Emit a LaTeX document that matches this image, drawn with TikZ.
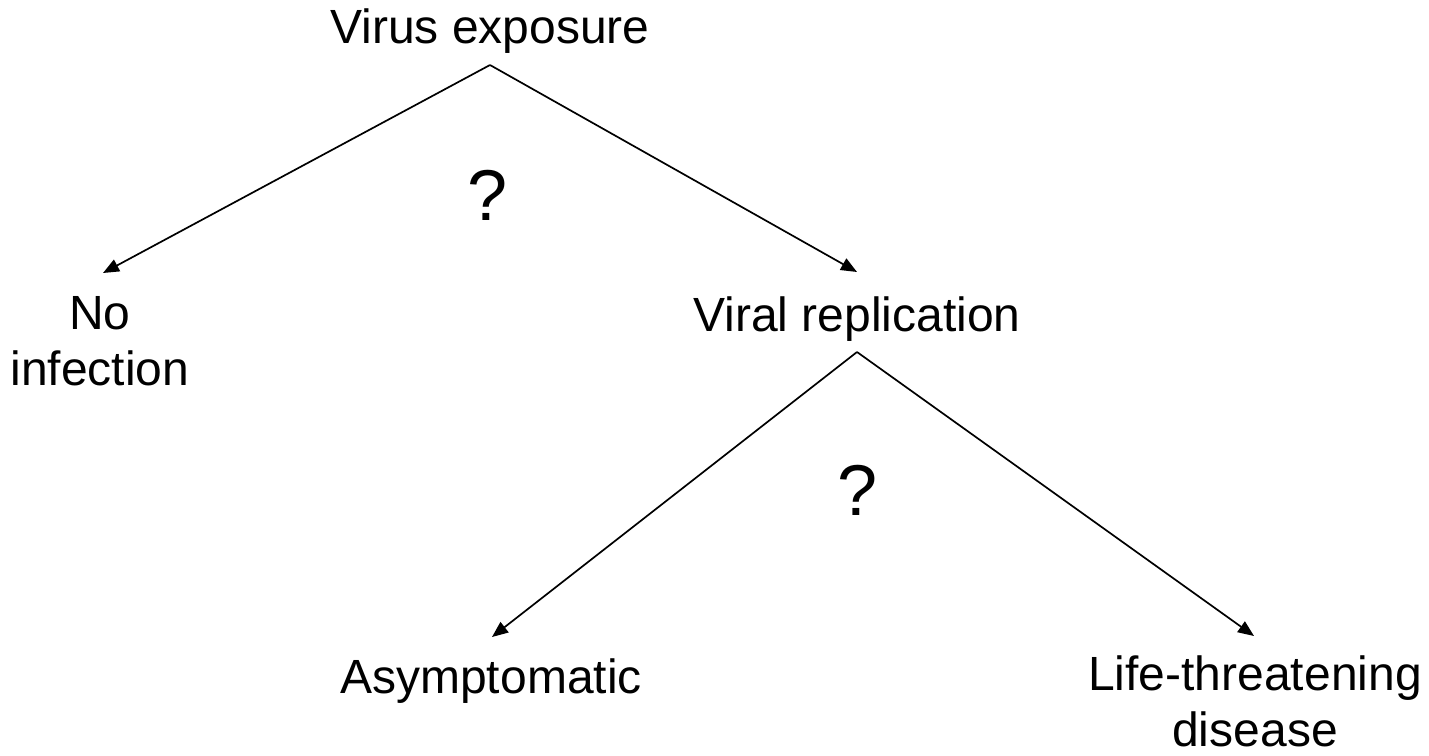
\documentclass[tikz,border=0pt]{standalone}
\usepackage{fontspec}
\setmainfont{Liberation Sans}
\usetikzlibrary{arrows.meta}
\begin{document}
\begin{tikzpicture}[x=1pt,y=-1pt,
  lbl/.style={inner sep=0pt, font=\fontsize{48}{56}\selectfont},
  qmark/.style={inner sep=0pt, anchor=base, font=\fontsize{72}{86}\selectfont},
  branch/.style={line width=1.7pt, -{Triangle[length=16pt,width=13pt]}}]
\useasboundingbox (0,0) rectangle (1429,755);

% outcome labels
\node[lbl, anchor=base] (exp) at (490,43) {Virus exposure};
\node[lbl, anchor=north, align=center] (noinf) at (100,296) {No\\infection};
\node[lbl, anchor=base] (rep) at (857,331) {Viral replication};
\node[lbl, anchor=base] (asym) at (491,693) {Asymptomatic};
\node[lbl, anchor=north, align=center] (life) at (1255,656) {Life-threatening\\disease};

% uncertainty marks
\node[qmark] (q1) at (488,220) {?};
\node[qmark] (q2) at (858,515) {?};

% branch points and arrow ends
\coordinate (a1) at (490,65);
\coordinate (a2) at (857,352);
\coordinate (t1) at (103,273);
\coordinate (t2) at (857,272);
\coordinate (t3) at (492,637);
\coordinate (t4) at (1254,636);

\draw[branch] (a1) -- (t1);
\draw[branch] (a1) -- (t2);
\draw[branch] (a2) -- (t3);
\draw[branch] (a2) -- (t4);
\end{tikzpicture}
\end{document}
